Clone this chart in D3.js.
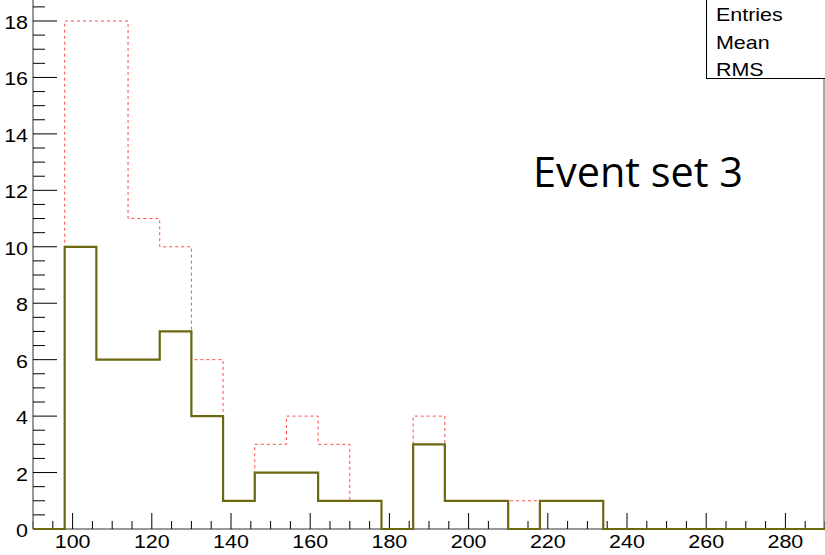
<!DOCTYPE html>
<html>
<head>
<meta charset="utf-8">
<script src="https://cdn.jsdelivr.net/npm/d3@7"></script>
<style>
  html, body { margin: 0; padding: 0; background: #fff; }
  svg { display: block; }
  text { font-family: "Liberation Sans", Arial, sans-serif; }
</style>
</head>
<body>
<div id="chart"></div>
<script>
const WIDTH = 825;
const HEIGHT = 555;

// bins of width 8 starting at 98
const BIN_START = 98;
const BIN_WIDTH = 8;
const solidCounts = [10, 6, 6, 7, 4, 1, 2, 2, 1, 1, 0, 3, 1, 1, 0, 1, 1, 0, 0, 0, 0, 0, 0, 0];
const dashedCounts = [18, 18, 11, 10, 6, 1, 3, 4, 3, 1, 0, 4, 1, 1, 1, 1, 1, 0, 0, 0, 0, 0, 0, 0];
const statLabels = ["Entries", "Mean", "RMS"];
const annotation = "Event set 3";

const STRETCH = 1.16; // picture text is a bit wider than tall

const x = d3.scaleLinear().domain([90, 290]).range([33, 825]);
const y = d3.scaleLinear().domain([0, 18.9]).range([529, -4.4]);

const svg = d3.select("#chart").append("svg")
  .attr("width", WIDTH).attr("height", HEIGHT);

function stepPoints(counts) {
  const pts = [[x.domain()[0], 0], [BIN_START, 0]];
  counts.forEach((c, i) => {
    const x0 = BIN_START + i * BIN_WIDTH;
    pts.push([x0, c], [x0 + BIN_WIDTH, c]);
  });
  pts.push([BIN_START + counts.length * BIN_WIDTH, 0]);
  return pts;
}

const line = d3.line().x((d) => x(d[0])).y((d) => y(d[1]));

// x axis
const xTicks = d3.range(90, 291, 5);
const xAxis = svg.append("g").attr("transform", `translate(0,${y(0)})`);
xAxis.append("line").attr("x1", x(90)).attr("x2", x(290)).attr("stroke", "#777").attr("stroke-width", 1.5);
xAxis.selectAll("line.t").data(xTicks).join("line").attr("class", "t")
  .attr("x1", (d) => x(d)).attr("x2", (d) => x(d))
  .attr("y1", 0).attr("y2", (d) => (d % 20 === 0 ? -16 : -8))
  .attr("stroke", "#000").attr("stroke-width", 1);
xAxis.selectAll("text").data(d3.range(100, 281, 20)).join("text")
  .attr("transform", (d) => `translate(${x(d)},19) scale(${STRETCH},1)`)
  .attr("text-anchor", "middle").attr("font-size", 18.5).text((d) => d);

// y axis
const yTicks = d3.range(0, 18.51, 0.5);
const yAxis = svg.append("g").attr("transform", `translate(${x(90)},0)`);
yAxis.append("line").attr("y1", 0).attr("y2", y(0)).attr("stroke", "#777").attr("stroke-width", 1.5);
yAxis.selectAll("line.t").data(yTicks).join("line").attr("class", "t")
  .attr("y1", (d) => y(d)).attr("y2", (d) => y(d))
  .attr("x1", 0).attr("x2", (d) => (d % 2 === 0 ? 24 : 12))
  .attr("stroke", "#000").attr("stroke-width", 1);
yAxis.selectAll("text").data(d3.range(0, 19, 2)).join("text")
  .attr("transform", (d) => `translate(-5,${y(d) + 8}) scale(${STRETCH},1)`)
  .attr("text-anchor", "end").attr("font-size", 18.5).text((d) => d);

// right frame
svg.append("line").attr("x1", 824).attr("x2", 824).attr("y1", 0).attr("y2", y(0))
  .attr("stroke", "#555").attr("stroke-width", 1);

// histograms
svg.append("path").attr("d", line(stepPoints(dashedCounts)))
  .attr("fill", "none").attr("stroke", "#ff4a4a").attr("stroke-width", 1)
  .attr("stroke-dasharray", "3,3");
svg.append("path").attr("d", line(stepPoints(solidCounts)))
  .attr("fill", "none").attr("stroke", "#6b6810").attr("stroke-width", 2.2);

// stats box
const box = svg.append("g");
box.append("rect").attr("x", 706.5).attr("y", -2).attr("width", 130).attr("height", 80.5)
  .attr("fill", "#fff").attr("stroke", "#000").attr("stroke-width", 1);
box.selectAll("text").data(statLabels).join("text")
  .attr("transform", (d, i) => `translate(716,${21 + i * 27.7}) scale(${STRETCH},1)`)
  .attr("font-size", 18.5).text((d) => d);

// annotation
svg.append("text").attr("x", 533).attr("y", 187)
  .style("font-family", "'Open Sans', Lato, sans-serif").attr("font-size", 41.5)
  .attr("textLength", 210).attr("lengthAdjust", "spacingAndGlyphs")
  .text(annotation);
</script>
</body>
</html>
